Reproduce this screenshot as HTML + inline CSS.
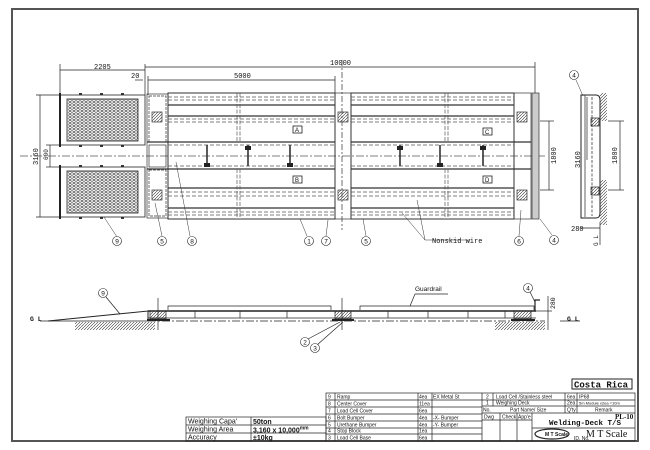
<!DOCTYPE html>
<html><head><meta charset="utf-8"><style>
html,body{margin:0;padding:0;background:#fff;width:650px;height:450px;overflow:hidden}
svg{display:block}
text{font-family:"Liberation Sans",sans-serif;fill:#111}
.m{font-family:"Liberation Mono",monospace}
.s{font-family:"Liberation Serif",serif}
</style></head><body>
<svg width="650" height="450" viewBox="0 0 650 450" xmlns="http://www.w3.org/2000/svg">
<defs>
<pattern id="hx" width="4" height="3" patternUnits="userSpaceOnUse"><rect width="4" height="3" fill="#fff"/><circle cx="2" cy="1.5" r="1.3" fill="none" stroke="#444" stroke-width="0.6"/></pattern>
<pattern id="ht" width="3" height="3" patternUnits="userSpaceOnUse"><path d="M0,3 L3,0" stroke="#333" stroke-width="0.6"/></pattern>
</defs>
<rect x="12" y="9" width="626" height="432" fill="none" stroke="#555" stroke-width="2"/>

<g stroke="#222" fill="none" stroke-width="0.7">
<line x1="60" y1="70" x2="145" y2="70"/><line x1="145" y1="67" x2="535" y2="67"/>
<line x1="148" y1="80" x2="335" y2="80"/><line x1="135" y1="80" x2="143" y2="80"/>
<line x1="60" y1="64" x2="60" y2="95"/><line x1="145" y1="64" x2="145" y2="95"/><line x1="148" y1="76" x2="148" y2="95"/><line x1="535" y1="62" x2="535" y2="95"/><line x1="335" y1="76" x2="335" y2="93"/>
<line x1="40" y1="95" x2="40" y2="217"/><line x1="36" y1="95" x2="60" y2="95"/><line x1="36" y1="217" x2="60" y2="217"/>
<line x1="50" y1="145" x2="50" y2="167"/><line x1="46" y1="145" x2="60" y2="145"/><line x1="46" y1="167" x2="60" y2="167"/>
<line x1="20" y1="156" x2="545" y2="156" stroke-dasharray="8,2,2,2" stroke="#555"/>
</g>
<text x="94" y="69" font-size="7" class="m">2205</text>
<text x="131" y="78" font-size="7" class="m">20</text>
<text x="234" y="78" font-size="7" class="m">5000</text>
<text x="330" y="65" font-size="7" class="m">10000</text>
<text x="38" y="165" font-size="7" class="m" transform="rotate(-90 38 165)">3160</text>
<text x="48" y="160" font-size="6" class="m" transform="rotate(-90 48 160)">600</text>

<g stroke="#222" stroke-width="0.8">
<rect x="60" y="95" width="85" height="50" fill="#fff"/><rect x="67" y="99" width="71" height="42" fill="url(#hx)"/>
<rect x="60" y="167" width="85" height="50" fill="#fff"/><rect x="67" y="171" width="71" height="42" fill="url(#hx)"/>
<line x1="60" y1="93" x2="60" y2="147" stroke-width="2"/><line x1="60" y1="165" x2="60" y2="219" stroke-width="2"/>
</g>
<g fill="#333">
<rect x="79" y="93" width="3" height="2"/><rect x="100" y="93" width="3" height="2"/><rect x="121" y="93" width="3" height="2"/>
<rect x="79" y="145" width="3" height="2"/><rect x="100" y="145" width="3" height="2"/><rect x="121" y="145" width="3" height="2"/>
<rect x="79" y="165" width="3" height="2"/><rect x="100" y="165" width="3" height="2"/><rect x="121" y="165" width="3" height="2"/>
<rect x="79" y="217" width="3" height="2"/><rect x="100" y="217" width="3" height="2"/><rect x="121" y="217" width="3" height="2"/>
</g>
<g stroke="#333" fill="none" stroke-width="0.7">
<rect x="147" y="94" width="21" height="124"/>
<rect x="149" y="96" width="17" height="46" stroke-dasharray="3,1"/><rect x="149" y="170" width="17" height="46" stroke-dasharray="3,1"/>
<rect x="149" y="145" width="17" height="22"/>
<rect x="152" y="112" width="10" height="10" fill="url(#ht)"/><rect x="152" y="190" width="10" height="10" fill="url(#ht)"/>
<rect x="168" y="93" width="167" height="126" stroke-width="1"/>
<rect x="351" y="93" width="163" height="126" stroke-width="1"/>
<rect x="335" y="93" width="16" height="126"/>
<rect x="514" y="93" width="17" height="126"/>
<rect x="532" y="93" width="7" height="126" fill="#ccc"/>
<rect x="338" y="112" width="10" height="10" fill="url(#ht)"/><rect x="338" y="190" width="10" height="10" fill="url(#ht)"/>
<rect x="517" y="112" width="10" height="10" fill="url(#ht)"/><rect x="517" y="190" width="10" height="10" fill="url(#ht)"/>
<line x1="342" y1="60" x2="342" y2="230" stroke-dasharray="6,2,2,2"/>
</g>
<g stroke="#333" stroke-width="0.7">
<path d="M168 105H335M351 105H514M168 116H335M351 116H514M168 142H335M351 142H514M168 169H335M351 169H514M168 188H335M351 188H514M168 208H335M351 208H514M147 142H168M147 169H168M514 142H531M514 169H531" stroke-width="1.2"/>
<path d="M168 97H335M351 97H514M168 100H335M351 100H514M168 119H335M351 119H514M168 122H335M351 122H514M168 145H335M351 145H514M168 166H335M351 166H514M168 192H335M351 192H514M168 196H335M351 196H514M168 212H335M351 212H514M168 215H335M351 215H514" stroke-dasharray="4,2" stroke="#555"/>
<path d="M237 93V142M240 93V142M237 169V219M240 169V219M445 93V142M448 93V142M445 169V219M448 169V219" stroke-dasharray="4,1.5" stroke="#555"/>
<path d="M207 145V166M248 145V166M290 145V166M400 145V166M440 145V166M483 145V166" stroke-width="1.6"/>
</g>
<g fill="#222">
<rect x="204" y="163" width="6" height="4"/><rect x="245" y="146" width="6" height="4"/><rect x="287" y="163" width="6" height="4"/>
<rect x="397" y="146" width="6" height="4"/><rect x="437" y="163" width="6" height="4"/><rect x="480" y="146" width="6" height="4"/>
</g>
<g stroke="#222" fill="#fff" stroke-width="0.8">
<rect x="293" y="126" width="9" height="7"/><rect x="293" y="176" width="9" height="7"/>
<rect x="483" y="128" width="9" height="7"/><rect x="483" y="176" width="9" height="7"/>
</g>
<g font-size="6"><text x="295" y="132">A</text><text x="295" y="182">B</text><text x="485" y="134">C</text><text x="485" y="182">D</text></g>

<g stroke="#222" fill="none" stroke-width="0.7">
<line x1="549" y1="121" x2="549" y2="190"/><line x1="540" y1="121" x2="554" y2="121"/><line x1="540" y1="190" x2="554" y2="190"/>
<line x1="585" y1="95" x2="585" y2="217"/>
<line x1="620" y1="121" x2="620" y2="190"/><line x1="608" y1="121" x2="624" y2="121"/><line x1="608" y1="190" x2="624" y2="190"/>
<path d="M581 95H596Q600 95 600 100V213Q600 218 596 218H581Z" stroke-width="1"/>
<line x1="592" y1="97" x2="592" y2="216" stroke-dasharray="3,1.5"/>
<line x1="587" y1="97" x2="587" y2="160"/>
<rect x="600" y="93" width="7" height="28" fill="url(#ht)" stroke="none"/>
<rect x="600" y="180" width="7" height="45" fill="url(#ht)" stroke="none"/>
<rect x="591" y="118" width="8" height="8" fill="url(#ht)"/><rect x="591" y="187" width="8" height="8" fill="url(#ht)"/>
<line x1="580" y1="228" x2="600" y2="228"/><line x1="600" y1="222" x2="600" y2="245"/>
</g>
<text x="556" y="164" font-size="7" class="m" transform="rotate(-90 556 164)">1800</text>
<text x="580" y="168" font-size="7" class="m" transform="rotate(-90 580 168)">3160</text>
<text x="617" y="164" font-size="7" class="m" transform="rotate(-90 617 164)">1800</text>
<text x="571" y="231" font-size="7" class="m">280</text>
<text x="598" y="246" font-size="6" class="m" transform="rotate(-90 598 246)">G L</text>

<g stroke="#333" fill="none" stroke-width="0.5">
<line x1="104" y1="217" x2="117" y2="237"/><line x1="155" y1="203" x2="162" y2="236"/>
<line x1="176" y1="162" x2="190" y2="236"/><line x1="300" y1="219" x2="307" y2="236"/>
<line x1="328" y1="220" x2="326" y2="236"/><line x1="363" y1="219" x2="366" y2="236"/>
<line x1="402" y1="213" x2="425" y2="240"/><line x1="417" y1="200" x2="425" y2="240"/><line x1="425" y1="240" x2="470" y2="240"/>
<line x1="521" y1="210" x2="519" y2="236"/><line x1="540" y1="219" x2="552" y2="235"/>
<line x1="576" y1="80" x2="583" y2="96"/>
</g>
<g font-size="6.5" text-anchor="middle" stroke="#222" stroke-width="0.6">
<circle cx="117" cy="241" r="4.5" fill="#fff"/><circle cx="162" cy="241" r="4.5" fill="#fff"/><circle cx="192" cy="241" r="4.5" fill="#fff"/>
<circle cx="309" cy="241" r="4.5" fill="#fff"/><circle cx="326" cy="241" r="4.5" fill="#fff"/><circle cx="366" cy="241" r="4.5" fill="#fff"/>
<circle cx="519" cy="241" r="4.5" fill="#fff"/><circle cx="554" cy="240" r="4.5" fill="#fff"/><circle cx="574" cy="75" r="4.5" fill="#fff"/>
</g>
<g font-size="6.5" text-anchor="middle">
<text x="117" y="243.5">9</text><text x="162" y="243.5">5</text><text x="192" y="243.5">8</text>
<text x="309" y="243.5">1</text><text x="326" y="243.5">7</text><text x="366" y="243.5">5</text>
<text x="519" y="243.5">6</text><text x="554" y="242.5">4</text><text x="574" y="77.5">4</text>
</g>
<text x="432" y="243" font-size="7" class="m">Nonskid wire</text>

<g stroke="#222" fill="none" stroke-width="0.7">
<line x1="40" y1="321" x2="148" y2="321"/>
<line x1="148" y1="321" x2="545" y2="321" stroke-dasharray="8,2,2,2"/>
<line x1="560" y1="321" x2="580" y2="321"/>
<path d="M48 321L148 311V321" stroke-width="1"/>
<path d="M168 310V306H331V310M360 310V306H534V310"/>
<line x1="148" y1="311" x2="536" y2="311" stroke-width="1.6"/>
<line x1="148" y1="318" x2="536" y2="318"/>
<path d="M195 311V318M240 311V318M287 311V318M388 311V318M428 311V318M468 311V318M505 311V318"/>
<rect x="150" y="311" width="16" height="8" fill="url(#ht)"/><rect x="335" y="311" width="16" height="8" fill="url(#ht)"/><rect x="514" y="311" width="17" height="8" fill="url(#ht)"/>
<line x1="147" y1="320" x2="170" y2="320" stroke-width="2"/><line x1="332" y1="320" x2="354" y2="320" stroke-width="2"/><line x1="511" y1="320" x2="535" y2="320" stroke-width="2"/>
<line x1="158" y1="298" x2="158" y2="330"/><line x1="342" y1="298" x2="342" y2="330"/>
<rect x="75" y="322" width="80" height="8" fill="url(#ht)" stroke="none"/>
<rect x="495" y="322" width="50" height="8" fill="url(#ht)" stroke="none"/>
<path d="M535 311V300H540" stroke-width="1.2"/>
<line x1="548" y1="296" x2="548" y2="330"/><line x1="536" y1="311" x2="552" y2="311"/>
<line x1="106" y1="297" x2="120" y2="314"/>
<line x1="448" y1="294" x2="415" y2="294"/><line x1="415" y1="294" x2="410" y2="306"/>
<line x1="340" y1="322" x2="308" y2="339"/><line x1="343" y1="322" x2="317" y2="345"/>
<line x1="530" y1="292" x2="535" y2="302"/>
</g>
<g font-size="6.5" text-anchor="middle" stroke="#222" stroke-width="0.6" fill="#fff">
<circle cx="103" cy="293" r="4.5"/><circle cx="305" cy="342" r="4.5"/><circle cx="315" cy="348" r="4.5"/><circle cx="528" cy="288" r="4.5"/>
</g>
<g font-size="6.5" text-anchor="middle">
<text x="103" y="295.5">9</text><text x="305" y="344.5">2</text><text x="315" y="350.5">3</text><text x="528" y="290.5">4</text>
</g>
<text x="415" y="291" font-size="6.5">Guardrail</text>
<text x="30" y="321" font-size="6.5" class="m" font-weight="bold">G L</text>
<text x="567" y="321" font-size="6.5" class="m" font-weight="bold">G L</text>
<text x="555" y="309" font-size="6.5" class="m" transform="rotate(-90 555 309)">280</text>

<g stroke="#222" fill="none" stroke-width="0.7">
<rect x="572" y="379" width="60" height="10" stroke-width="1"/>
<rect x="186" y="417" width="140" height="24"/>
<path d="M186 425H326M186 433H326M251 417V441"/>
<rect x="326" y="393" width="309" height="48"/>
<path d="M326 400H482M326 407H482M326 414H482M326 421H482M326 428H482M326 434H482"/>
<path d="M335 393V441M418 393V441M432 393V441M482 393V441"/>
<path d="M482 400H635M482 406H635M482 413H635M493 393V406M565 393V413M577 393V413"/>
<path d="M500 413V441M517 413V441M532 413V441M532 428H635M482 420H532"/>
<ellipse cx="552" cy="434" rx="17" ry="5" stroke-width="1.2"/>
</g>
<g font-size="7" class="m">
<text x="188" y="423.5">Weighing Capa'</text><text x="188" y="431.5">Weighing Area</text><text x="188" y="439.5">Accuracy</text>
</g>
<g font-size="7" class="m" font-weight="bold">
<text x="253" y="424">50ton</text><text x="253" y="432.5">3,160 x 10,000<tspan font-size="5" dy="-3">mm</tspan></text><text x="253" y="440">±10kg</text>
</g>
<g font-size="5">
<text x="328" y="398.5">9</text><text x="337" y="398.5">Ramp</text><text x="419" y="398.5">4ea</text><text x="433" y="398.5">EX Metal St</text>
<text x="328" y="405.5">8</text><text x="337" y="405.5">Center Cover</text><text x="419" y="405.5">11ea</text>
<text x="328" y="412.5">7</text><text x="337" y="412.5">Load Cell Cover</text><text x="419" y="412.5">6ea</text>
<text x="328" y="419.5">6</text><text x="337" y="419.5">Bolt Bumper</text><text x="419" y="419.5">4ea</text><text x="433" y="419.5">-X- Bumper</text>
<text x="328" y="426.5">5</text><text x="337" y="426.5">Urethane Bumper</text><text x="419" y="426.5">4ea</text><text x="433" y="426.5">-Y- Bumper</text>
<text x="328" y="432.5">4</text><text x="337" y="432.5">Stop Block</text><text x="419" y="432.5">1ea</text>
<text x="328" y="439.5">3</text><text x="337" y="439.5">Load Cell Base</text><text x="419" y="439.5">6ea</text>
<text x="486" y="398.5">2</text><text x="496" y="398.5">Load Cell  /Stainless steel</text><text x="567" y="398.5">6ea</text><text x="579" y="398.5">IP68</text>
<text x="486" y="404.5">1</text><text x="496" y="404.5">Weighing Deck</text><text x="567" y="404.5">2ea</text><text x="579" y="404.5" font-size="4">5m Module x2ea =10m</text>
<text x="483" y="411.5">No.</text><text x="510" y="411.5">Part Name/ Size</text><text x="567" y="411.5">Q'ty</text><text x="595" y="411.5">Remark</text>
<text x="484" y="418.5">Dwg</text><text x="502" y="418.5">Check</text><text x="518" y="418.5">App'e</text>
<text x="574" y="440">ID. No.</text>
</g>
<text x="615" y="419" font-size="7" class="s" font-weight="bold">PL-10</text>
<text x="549" y="425" font-size="7.5" class="m" font-weight="bold">Welding-Deck T/S</text>
<text x="545" y="436" font-size="5" font-weight="bold">M T Scale</text>
<text x="586" y="437" font-size="10" class="s">M T Scale</text>
<text x="574" y="387.5" font-size="9" class="m" font-weight="bold">Costa Rica</text>
</svg>
</body></html>
